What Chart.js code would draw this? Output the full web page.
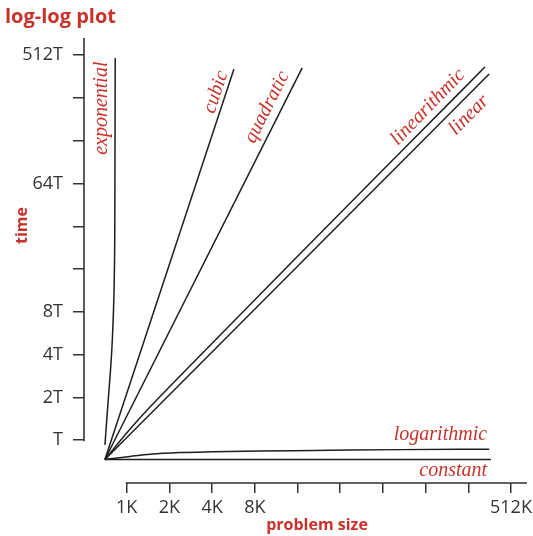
<!DOCTYPE html>
<html><head><meta charset="utf-8">
<script src="https://cdn.jsdelivr.net/npm/chart.js@4.4.1/dist/chart.umd.min.js"></script>
<style>html,body{margin:0;padding:0;background:#fff;} canvas{display:block;}</style>
</head><body>
<canvas id="c" width="533" height="536"></canvas>
<script>
// Axes are in doubling steps: x = log2(N / 1K), y = log2(time / T)
const xTickValues = [0, 1, 2, 3, 4, 5, 6, 7, 8, 9];
const xTickLabels = ['1K', '2K', '4K', '8K', '', '', '', '', '', '512K'];
const yTickValues = [0, 1, 2, 3, 4, 5, 6, 7, 8, 9];
const yTickLabels = ['T', '2T', '4T', '8T', '', '', '64T', '', '', '512T'];

const seriesNames = ['constant', 'logarithmic', 'linear', 'linearithmic', 'quadratic', 'cubic', 'exponential'];

const constantX = [-0.51, 8.53];
const constantY = [-0.45, -0.45];
const logarithmicX = [-0.51, -0.27, 0.08, 0.55, 1.25, 2.02, 3.12, 4.36, 6.40, 8.49];
const logarithmicY = [-0.45, -0.42, -0.38, -0.33, -0.29, -0.27, -0.25, -0.24, -0.22, -0.21];
const linearX = [-0.51, 8.49];
const linearY = [-0.45, 8.56];
const linearithmicX = [-0.51, 0.08, 0.55, 1.72, 4.06, 6.40, 8.39];
const linearithmicY = [-0.45, 0.26, 0.78, 1.98, 4.36, 6.72, 8.72];
const quadraticX = [-0.51, 4.11];
const quadraticY = [-0.45, 8.70];
const cubicX = [-0.51, 2.51];
const cubicY = [-0.45, 8.67];
const exponentialX = [-0.508, -0.485, -0.450, -0.415, -0.379, -0.349, -0.326, -0.302, -0.288, -0.279, -0.274, -0.269];
const exponentialY = [-0.11, 0.24, 0.71, 1.17, 1.64, 2.11, 2.58, 3.28, 3.98, 4.91, 6.78, 8.93];

const seriesX = {constant: constantX, logarithmic: logarithmicX, linear: linearX, linearithmic: linearithmicX,
  quadratic: quadraticX, cubic: cubicX, exponential: exponentialX};
const seriesY = {constant: constantY, logarithmic: logarithmicY, linear: linearY, linearithmic: linearithmicY,
  quadratic: quadraticY, cubic: cubicY, exponential: exponentialY};

// label placement (layout only)
const labelLayout = {
  constant:     {x: 8.44, y: -0.836, rot: 0, align: 'right', base: 'alphabetic'},
  logarithmic:  {x: 8.44, y: 0.005, rot: 0, align: 'right', base: 'alphabetic'},
  linear:       {x: 8.016, y: 7.598, rot: -45, align: 'center', base: 'middle'},
  linearithmic: {x: 7.056, y: 7.785, rot: -46, align: 'center', base: 'middle'},
  quadratic:    {x: 3.286, y: 7.785, rot: -63.2, align: 'center', base: 'middle'},
  cubic:        {x: 2.091, y: 8.136, rot: -71.7, align: 'center', base: 'middle'},
  exponential:  {x: -0.578, y: 7.76, rot: -90, align: 'center', base: 'middle'}
};

const RED = '#c8322a';
const INK = '#1e1e1e';
const AXIS = '#333333';

const datasets = seriesNames.map(name => ({
  label: name,
  data: seriesX[name].map((x, i) => ({x: x, y: seriesY[name][i]})),
  showLine: true,
  borderColor: INK,
  borderWidth: 1.5,
  pointRadius: 0,
  fill: false,
  cubicInterpolationMode: (name === 'logarithmic' || name === 'exponential' || name === 'linearithmic') ? 'monotone' : 'default',
  clip: false
}));

const decorPlugin = {
  id: 'decor',
  beforeDatasetsDraw(chart) {
    const ctx = chart.ctx, xs = chart.scales.x, ys = chart.scales.y, ca = chart.chartArea;
    ctx.save();
    ctx.strokeStyle = AXIS;
    ctx.lineWidth = 1.6;
    ctx.lineCap = 'butt';
    ctx.beginPath();
    ctx.moveTo(ca.left, ys.getPixelForValue(0) + 1);
    ctx.lineTo(ca.left, ca.top);
    ctx.moveTo(xs.getPixelForValue(0) - 1, ca.bottom);
    ctx.lineTo(ca.right, ca.bottom);
    ctx.stroke();
    ctx.restore();
  },
  afterDraw(chart) {
    const ctx = chart.ctx, xs = chart.scales.x, ys = chart.scales.y;
    ctx.save();
    // title
    ctx.fillStyle = RED;
    ctx.font = 'bold 20px "Open Sans"';
    ctx.textAlign = 'left';
    ctx.textBaseline = 'alphabetic';
    ctx.fillText('log-log plot', 5, 23);
    // x title
    ctx.font = 'bold 16px "Open Sans"';
    ctx.textAlign = 'center';
    ctx.fillText('problem size', 317, 530);
    // y title
    ctx.save();
    ctx.translate(27, 225.5);
    ctx.rotate(-Math.PI / 2);
    ctx.fillText('time', 0, 0);
    ctx.restore();
    // series labels
    ctx.font = 'italic 20px "Liberation Serif"';
    seriesNames.forEach(name => {
      const l = labelLayout[name];
      ctx.save();
      ctx.translate(xs.getPixelForValue(l.x), ys.getPixelForValue(l.y));
      ctx.rotate(l.rot * Math.PI / 180);
      ctx.textAlign = l.align;
      ctx.textBaseline = l.base;
      ctx.fillText(name, 0, 0);
      ctx.restore();
    });
    ctx.restore();
  }
};

new Chart(document.getElementById('c'), {
  type: 'scatter',
  data: {datasets: datasets},
  options: {
    responsive: false,
    animation: false,
    devicePixelRatio: 1,
    layout: {padding: {left: 0, right: 6, top: 38, bottom: 0}},
    plugins: {legend: {display: false}, tooltip: {enabled: false}, title: {display: false}},
    scales: {
      x: {
        type: 'linear', position: 'bottom', min: -1, max: 9.375,
        afterBuildTicks: s => { s.ticks = xTickValues.map(v => ({value: v})); },
        afterFit: s => { s.height = 53; s.paddingLeft = 0; s.paddingRight = 0; },
        border: {display: false},
        grid: {drawOnChartArea: false, drawTicks: true, tickLength: 10, color: AXIS, lineWidth: 1.5},
        ticks: {autoSkip: false, maxRotation: 0, padding: 4, color: AXIS,
          font: {family: '"Open Sans"', size: 18},
          callback: v => xTickLabels[xTickValues.indexOf(Math.round(v))] ?? ''}
      },
      y: {
        type: 'linear', position: 'left', min: -1, max: 9.4,
        afterBuildTicks: s => { s.ticks = yTickValues.map(v => ({value: v})); },
        afterFit: s => { s.width = 84; s.paddingTop = 0; s.paddingBottom = 0; },
        border: {display: false},
        grid: {drawOnChartArea: false, drawTicks: true, tickLength: 11, color: AXIS, lineWidth: 1.5},
        ticks: {autoSkip: false, padding: 10, color: AXIS,
          font: {family: '"Open Sans"', size: 18},
          callback: v => yTickLabels[yTickValues.indexOf(Math.round(v))] ?? ''}
      }
    }
  },
  plugins: [decorPlugin]
});
</script>
</body></html>
